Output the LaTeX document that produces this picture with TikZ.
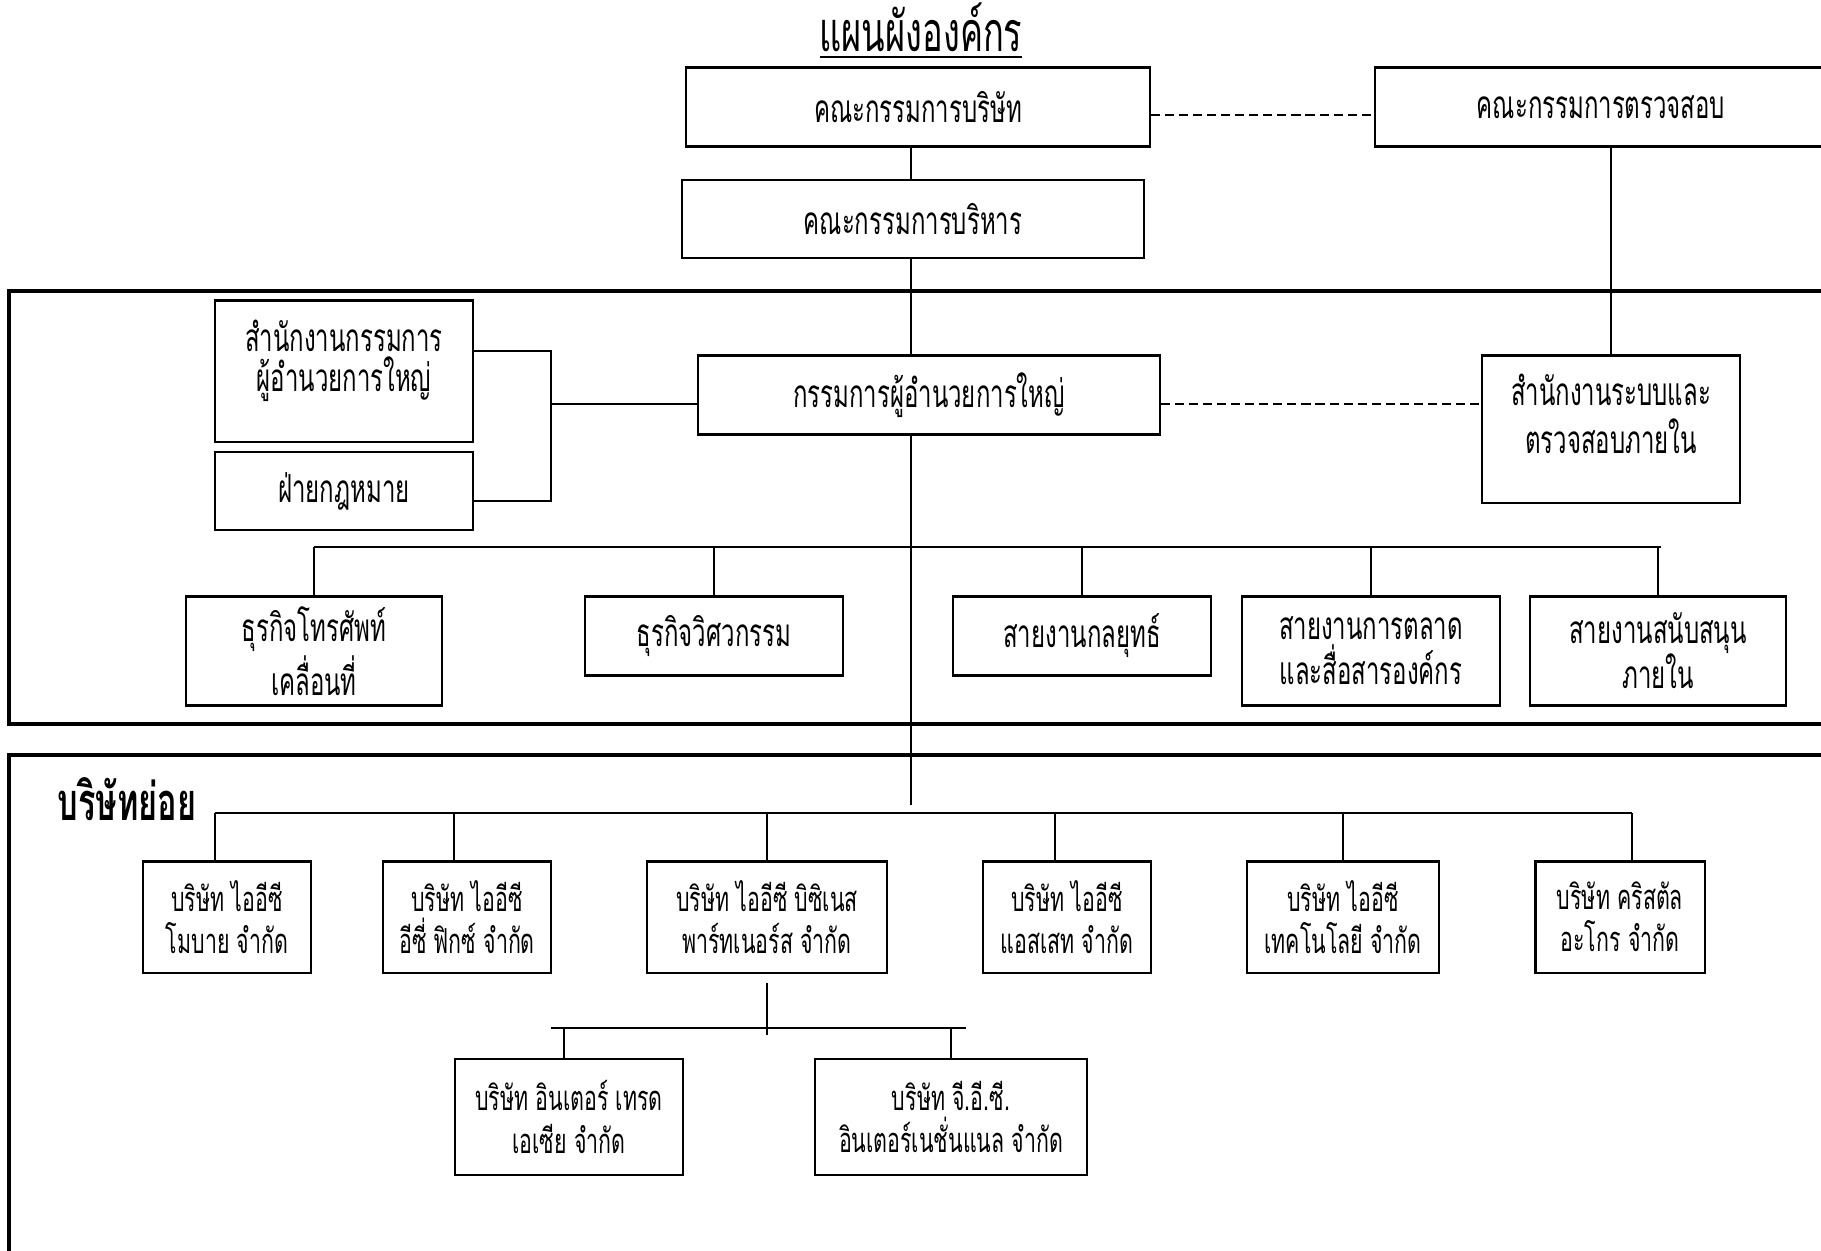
\documentclass[tikz,border=0pt]{standalone}
\usepackage{fontspec}
\setmainfont{Loma}[Script=Thai,FakeStretch=0.62]

\begin{document}
\begin{tikzpicture}[x=0.01cm,y=-0.01cm,
	box/.style={draw,line width=0.6pt,inner sep=0pt,align=center,font=\fontsize{11}{12.8}\selectfont},
	subbox/.style={box,font=\fontsize{9.8}{12}\selectfont,minimum height=1.11cm},
	conn/.style={line width=0.55pt},
	dashconn/.style={line width=0.55pt,dash pattern=on 2.6pt off 1.4pt},
	bigframe/.style={line width=1pt}]
	\useasboundingbox (0,0) rectangle (1821,1250);
	\clip (0,0) rectangle (1821,1250);
	\node[font=\fontsize{15.8}{18}\selectfont] (title) at (921,31) {\underline{แผนผังองค์กร}};
	\node[box,minimum width=4.63cm,minimum height=0.79cm] (board) at (918,107) {คณะกรรมการบริษัท};
	\node[box,minimum width=4.52cm,minimum height=0.79cm] (audit) at (1601,107) {คณะกรรมการตรวจสอบ};
	\node[box,minimum width=4.61cm,minimum height=0.78cm] (exec) at (913,219) {คณะกรรมการบริหาร};
	\draw[bigframe] (9,291) rectangle (1840,724);
	\draw[bigframe] (9,755) rectangle (1840,1270);
	\node[box,minimum width=4.61cm,minimum height=0.79cm] (ceo) at (929,395) {กรรมการผู้อำนวยการใหญ่};
	\node[box,minimum width=2.57cm,minimum height=1.41cm,font=\fontsize{11}{11.4}\selectfont] (ceooffice) at (344,371) {สำนักงานกรรมการ\\ผู้อำนวยการใหญ่\rule[-3mm]{0pt}{0pt}};
	\node[box,minimum width=2.57cm,minimum height=0.78cm] (legal) at (344,491) {ฝ่ายกฎหมาย};
	\node[box,minimum width=2.57cm,minimum height=1.47cm,font=\fontsize{11}{13.7}\selectfont] (internal) at (1611,429) {สำนักงานระบบและ\\ตรวจสอบภายใน\rule[-3mm]{0pt}{0pt}};
	\node[box,minimum width=2.56cm,minimum height=1.09cm] (mobile) at (314,651) {ธุรกิจโทรศัพท์\\เคลื่อนที่};
	\node[box,minimum width=2.58cm,minimum height=0.79cm] (eng) at (714,636) {ธุรกิจวิศวกรรม};
	\node[box,minimum width=2.58cm,minimum height=0.79cm] (strategy) at (1082,636) {สายงานกลยุทธ์};
	\node[box,minimum width=2.57cm,minimum height=1.09cm] (marketing) at (1371,651) {สายงานการตลาด\\และสื่อสารองค์กร};
	\node[box,minimum width=2.56cm,minimum height=1.09cm] (support) at (1658,651) {สายงานสนับสนุน\\ภายใน};
	\node[font=\fontsize{14.9}{17}\selectfont\bfseries] (sublabel) at (127,799) {บริษัทย่อย};
	\node[subbox,minimum width=1.68cm] (s1) at (227,917) {บริษัท ไออีซี\\โมบาย จำกัด};
	\node[subbox,minimum width=1.68cm] (s2) at (467,917) {บริษัท ไออีซี\\อีซี่ ฟิกซ์ จำกัด};
	\node[subbox,minimum width=2.40cm] (s3) at (767,917) {บริษัท ไออีซี บิซิเนส\\พาร์ทเนอร์ส จำกัด};
	\node[subbox,minimum width=1.68cm] (s4) at (1067,917) {บริษัท ไออีซี\\แอสเสท จำกัด};
	\node[subbox,minimum width=1.92cm] (s5) at (1343,917) {บริษัท ไออีซี\\เทคโนโลยี จำกัด};
	\node[subbox,minimum width=1.69cm] (s6) at (1620,917) {บริษัท คริสตัล\\อะโกร จำกัด};
	\node[subbox,minimum width=2.27cm,minimum height=1.16cm] (t1) at (569,1117) {บริษัท อินเตอร์ เทรด\\เอเซีย จำกัด};
	\node[subbox,minimum width=2.72cm,minimum height=1.16cm] (t2) at (951,1117) {บริษัท จี.อี.ซี.\\อินเตอร์เนชั่นแนล จำกัด};
	\coordinate (spine) at (911,805);
	\coordinate (brk) at (551,404);
	\coordinate (ubus) at (911,547);
	\coordinate (sbus) at (911,813);
	\coordinate (tbus) at (767,1028);
	\draw[conn] (board.south -| spine) -- (exec.north -| spine);
	\draw[conn] (exec.south -| spine) -- (ceo.north -| spine);
	\draw[conn] (ceo.south -| spine) -- (spine);
	\draw[dashconn] ([yshift=-0.08cm]board.east) -- ([yshift=-0.08cm]board.east -| audit.west);
	\draw[dashconn] ([yshift=-0.09cm]ceo.east) -- ([yshift=-0.09cm]ceo.east -| internal.west);
	\draw[conn] (internal.north |- audit.south) -- (internal.north);
	\draw[conn] ([yshift=0.2cm]ceooffice.east) -| (brk) |- ([yshift=-0.1cm]legal.east);
	\draw[conn] (brk) -- (brk -| ceo.west);
	\draw[conn] (mobile.north |- ubus) -- ([xshift=0.03cm]support.north |- ubus);
	\foreach \n in {mobile,eng,strategy,marketing,support}
		\draw[conn] (\n.north |- ubus) -- (\n.north);
	\draw[conn] ([xshift=-0.12cm]s1.north |- sbus) -- ([xshift=0.12cm]s6.north |- sbus);
	\foreach \n/\dx in {s1/-0.12,s2/-0.13,s3/0,s4/-0.12,s5/0,s6/0.12}
		\draw[conn] ([xshift=\dx cm]\n.north |- sbus) -- ([xshift=\dx cm]\n.north);
	\draw[conn] ([yshift=-0.09cm]s3.south) -- ([yshift=-0.07cm]s3.south |- tbus);
	\draw[conn] ([xshift=-0.18cm]t1.north |- tbus) -- ([xshift=0.15cm]t2.north |- tbus);
	\draw[conn] ([xshift=-0.05cm]t1.north |- tbus) -- ([xshift=-0.05cm]t1.north);
	\draw[conn] (t2.north |- tbus) -- (t2.north);
\end{tikzpicture}
\end{document}
